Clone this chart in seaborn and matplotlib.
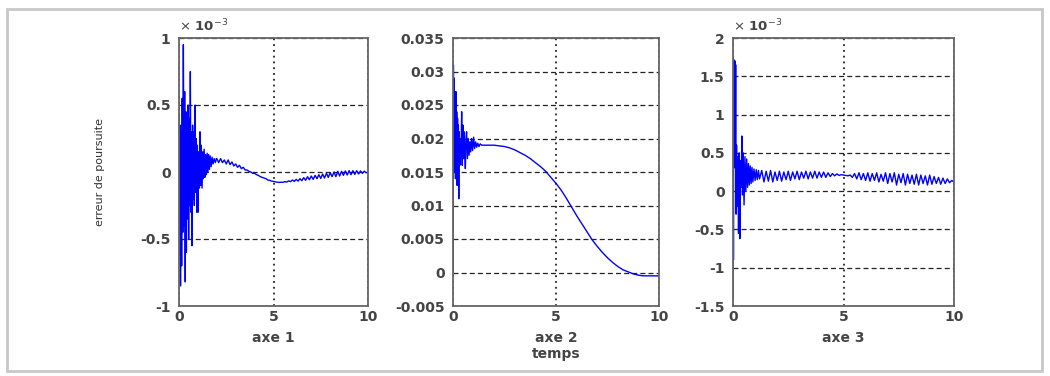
import numpy as np
import pandas as pd
import matplotlib
matplotlib.use("Agg")
import matplotlib.pyplot as plt
from matplotlib.patches import Rectangle
from matplotlib.ticker import FormatStrFormatter
import seaborn as sns

# === Data ===
# axe 1 : tracking error, in units of 1e-3
t1_start = [0.00, 0.02, 0.05, 0.08, 0.11, 0.14, 0.17, 0.20, 0.23, 0.27,
            0.30, 0.33, 0.36, 0.39, 0.42, 0.45, 0.48, 0.51, 0.54, 0.57,
            0.60, 0.63, 0.66, 0.69, 0.72, 0.75, 0.78, 0.81, 0.85, 0.88,
            0.91, 0.94, 0.97, 1.01, 1.04, 1.08, 1.11, 1.15, 1.18, 1.22,
            1.26, 1.29, 1.33, 1.37, 1.41, 1.45, 1.49, 1.53, 1.57, 1.61,
            1.65, 1.70, 1.75, 1.80, 1.86, 1.92, 1.98]
e1_start = [0.42, -0.62, 0.35, -0.85, 0.30, -0.70, 0.55, -0.45, 0.95, -0.40,
            0.60, -0.82, 0.45, -0.60, 0.35, -0.35, 0.50, -0.50, 0.40, -0.25,
            0.75, -0.30, 0.30, -0.55, 0.35, -0.20, 0.30, -0.25, 0.50, -0.15,
            0.25, -0.30, 0.20, -0.30, 0.15, -0.12, 0.30, -0.10, 0.20, -0.12,
            0.15, -0.05, 0.17, -0.04, 0.13, -0.02, 0.14, 0.00, 0.13, 0.02,
            0.12, 0.04, 0.11, 0.06, 0.10, 0.07, 0.10]
# sampled every 0.1 s from 2.0 to 10.0
e1_tail = [0.100, 0.070, 0.100, 0.070, 0.090, 0.060, 0.090, 0.055, 0.075, 0.045,
           0.060, 0.035, 0.050, 0.025, 0.035, 0.015, 0.015, 0.005, 0.000, -0.010,
           -0.010, -0.020, -0.025, -0.035, -0.040, -0.045, -0.050, -0.060, -0.062, -0.068,
           -0.070, -0.074, -0.076, -0.078, -0.076, -0.077, -0.072, -0.075, -0.066, -0.072,
           -0.060, -0.070, -0.055, -0.068, -0.050, -0.065, -0.042, -0.062, -0.035, -0.058,
           -0.030, -0.055, -0.025, -0.050, -0.020, -0.048, -0.015, -0.045, -0.010, -0.040,
           -0.005, -0.035, 0.000, -0.035, 0.005, -0.030, 0.005, -0.025, 0.008, -0.022,
           0.010, -0.020, 0.010, -0.018, 0.010, -0.015, 0.008, -0.010, 0.006, -0.006,
           0.000]

# axe 2 : tracking error
t2_start = [0.00, 0.02, 0.04, 0.06, 0.08, 0.10, 0.12, 0.14, 0.16, 0.18,
            0.20, 0.22, 0.24, 0.26, 0.28, 0.30, 0.33, 0.36, 0.39, 0.42,
            0.45, 0.48, 0.51, 0.54, 0.57, 0.60, 0.63, 0.66, 0.70, 0.74,
            0.78, 0.82, 0.86, 0.90, 0.95, 1.00, 1.05, 1.10, 1.15, 1.20,
            1.26, 1.32, 1.40, 1.50]
e2_start = [0.0, 0.031, 0.015, 0.029, 0.016, 0.025, 0.014, 0.027, 0.015, 0.024,
            0.013, 0.023, 0.015, 0.022, 0.011, 0.021, 0.016, 0.020, 0.017, 0.024,
            0.016, 0.022, 0.017, 0.021, 0.018, 0.0155, 0.020, 0.021, 0.017, 0.020,
            0.0175, 0.0195, 0.018, 0.020, 0.0182, 0.0202, 0.0185, 0.0195, 0.0187, 0.0193,
            0.0188, 0.0192, 0.019, 0.019]
t2_tail = [1.75, 2.0, 2.25, 2.5, 2.75, 3.0, 3.25, 3.5, 3.75, 4.0,
           4.25, 4.5, 4.75, 5.0, 5.25, 5.5, 5.75, 6.0, 6.25, 6.5,
           6.75, 7.0, 7.25, 7.5, 7.75, 8.0, 8.25, 8.5, 8.75, 9.0,
           9.25, 9.5, 9.75, 10.0]
e2_tail = [0.0190, 0.0190, 0.0189, 0.0188, 0.0186, 0.0183, 0.0179, 0.0175, 0.0170, 0.0164,
           0.0158, 0.0151, 0.0142, 0.0133, 0.0123, 0.0111, 0.0098, 0.0085, 0.0073, 0.0061,
           0.0049, 0.0039, 0.0030, 0.0022, 0.0015, 0.0009, 0.0004, 0.0001, -0.0002, -0.0004,
           -0.0005, -0.0005, -0.0005, -0.0005]

# axe 3 : tracking error, in units of 1e-3
t3_start = [0.00, 0.01, 0.02, 0.03, 0.045, 0.06, 0.075, 0.09, 0.105, 0.12,
            0.14, 0.16, 0.19, 0.22, 0.25, 0.28, 0.31, 0.34, 0.37, 0.40,
            0.43, 0.46, 0.50, 0.54, 0.58, 0.62, 0.66, 0.70, 0.74, 0.78,
            0.82, 0.86, 0.90, 0.95, 1.00, 1.05, 1.10, 1.15, 1.20]
e3_start = [-1.40, 1.75, -0.90, 1.72, 0.40, 1.70, 0.50, 1.70, 0.30, 1.65,
            -0.30, 0.60, -0.20, 0.45, -0.55, 0.50, -0.62, 0.40, 0.05, 0.72,
            -0.05, 0.50, -0.18, 0.45, 0.00, 0.42, 0.05, 0.36, 0.08, 0.33,
            0.10, 0.31, 0.12, 0.29, 0.14, 0.28, 0.15, 0.27, 0.16]
# sampled every 0.1 s from 1.3 to 10.0
e3_tail = [0.27, 0.12, 0.26, 0.13, 0.27, 0.12, 0.25, 0.14, 0.26, 0.13,
           0.25, 0.15, 0.26, 0.14, 0.25, 0.16, 0.26, 0.15, 0.25, 0.17,
           0.26, 0.16, 0.25, 0.17, 0.26, 0.17, 0.25, 0.18, 0.25, 0.18,
           0.24, 0.19, 0.23, 0.20, 0.225, 0.205, 0.215, 0.21, 0.205, 0.20,
           0.21, 0.18, 0.23, 0.16, 0.24, 0.15, 0.23, 0.14, 0.24, 0.13,
           0.23, 0.14, 0.24, 0.12, 0.22, 0.13, 0.24, 0.10, 0.23, 0.12,
           0.24, 0.08, 0.22, 0.11, 0.23, 0.08, 0.22, 0.10, 0.21, 0.09,
           0.22, 0.08, 0.21, 0.10, 0.20, 0.08, 0.21, 0.09, 0.19, 0.10,
           0.18, 0.09, 0.17, 0.10, 0.16, 0.11, 0.14, 0.12]

x_ticks = [0, 5, 10]
y_ticks_1 = [-1, -0.5, 0, 0.5, 1]
y_ticks_2 = [-0.005, 0, 0.005, 0.01, 0.015, 0.02, 0.025, 0.03, 0.035]
y_ticks_3 = [-1.5, -1, -0.5, 0, 0.5, 1, 1.5, 2]
x_labels = ["axe 1", "axe 2\ntemps", "axe 3"]

# === Assemble ===
df1 = pd.DataFrame({"t": t1_start + list(np.linspace(2.0, 10.0, len(e1_tail))),
                    "e": e1_start + e1_tail})
df2 = pd.DataFrame({"t": t2_start + t2_tail, "e": e2_start + e2_tail})
df3 = pd.DataFrame({"t": t3_start + list(np.linspace(1.3, 10.0, len(e3_tail))),
                    "e": e3_start + e3_tail})

sns.set_style("white")
plt.rcParams["font.family"] = ["DejaVu Sans"]
plt.rcParams["axes.unicode_minus"] = False

fig = plt.figure(figsize=(10.5, 3.76), dpi=100)
fig.patches.append(Rectangle((7 / 1050, 1 - 371 / 376), 1035 / 1050, 362 / 376,
                             transform=fig.transFigure, fill=False,
                             edgecolor="#c8c8c8", lw=2))

H = 1050.0
V = 376.0
boxes = [(179, 189), (453, 206), (733, 221)]
frames = [df1, df2, df3]
yticks = [y_ticks_1, y_ticks_2, y_ticks_3]

for i, (df, (left, width), yt) in enumerate(zip(frames, boxes, yticks)):
    ax = fig.add_axes([left / H, 1 - 306 / V, width / H, 268 / V])
    sns.lineplot(data=df, x="t", y="e", ax=ax, color="#0000ff", lw=1.0,
                 sort=False, estimator=None)
    ax.set_xlim(0, 10)
    ax.set_ylim(yt[0], yt[-1])
    ax.set_xticks(x_ticks)
    ax.set_yticks(yt)
    ax.yaxis.set_major_formatter(FormatStrFormatter("%g"))
    ax.yaxis.grid(True, linestyle=(0, (4, 2.5)), color="#222", lw=0.9)
    ax.xaxis.grid(True, linestyle=(0, (1, 2.2)), color="#222", lw=1.3)
    ax.tick_params(direction="in", length=3, width=0.8, colors="#444",
                   labelsize=10)
    ax.tick_params(axis="y", pad=6)
    ax.tick_params(axis="x", pad=3)
    for lab in ax.get_xticklabels() + ax.get_yticklabels():
        lab.set_fontweight("bold")
        lab.set_color("#444")
    for sp in ax.spines.values():
        sp.set_color("#666")
        sp.set_linewidth(1.3)
    ax.set_xlabel(x_labels[i], fontsize=10, fontweight="bold", color="#444",
                  linespacing=1.1)
    ax.xaxis.set_label_coords(0.5, -0.095)
    ax.xaxis.label.set_va("top")
    ax.set_ylabel("")
    if i != 1:
        ax.text(0.0, 1.015, r"$\times$ 10$^{-3}$", transform=ax.transAxes,
                ha="left", va="bottom", fontsize=9.5, fontweight="bold",
                color="#444")

fig.axes[0].set_ylabel("erreur de poursuite", fontsize=8, color="#333")
fig.axes[0].yaxis.set_label_coords(-0.39, 0.5)

fig.savefig("out.png", dpi=100, facecolor="white")
